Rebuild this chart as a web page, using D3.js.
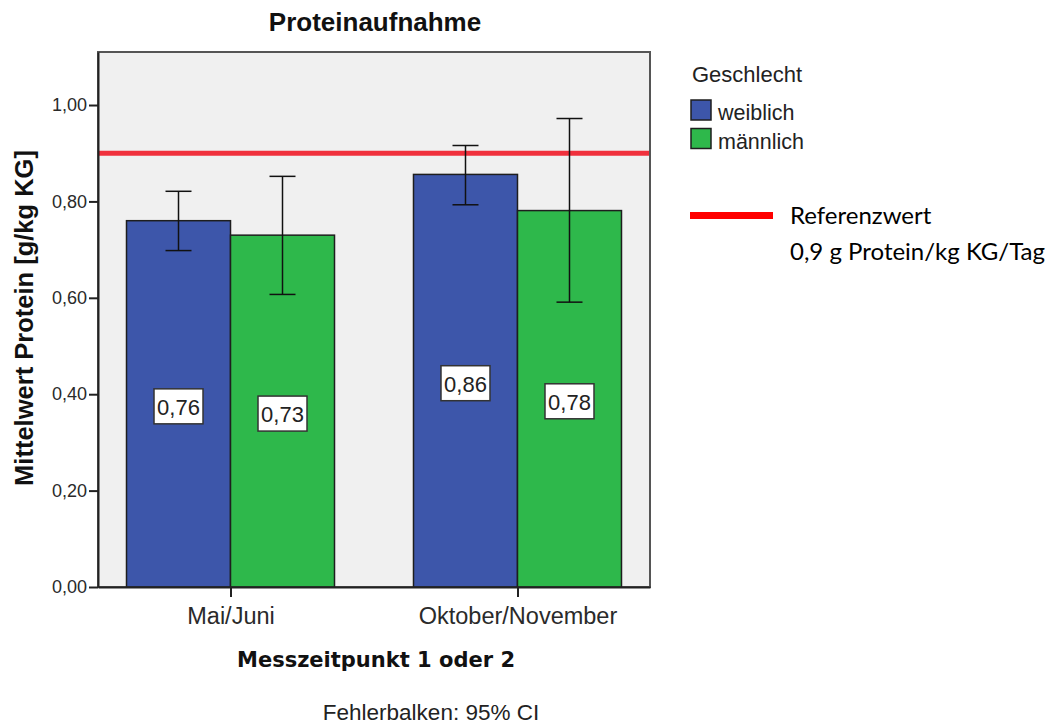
<!DOCTYPE html>
<html>
<head>
<meta charset="utf-8">
<script src="https://cdn.jsdelivr.net/npm/d3@7"></script>
<style>
  html, body { margin: 0; padding: 0; background: #ffffff; }
  svg { display: block; }
  .axis text { font-family: "Liberation Sans", Arial, sans-serif; fill: #2a2a2a; }
</style>
</head>
<body>
<svg id="chart" width="1050" height="725"></svg>
<script>
// Measurement periods (x categories) and sex groups (series)
const periods = ["Mai/Juni", "Oktober/November"];
const groups = ["weiblich", "männlich"];

// Mean protein intake [g/kg KG] per period, one array per group
const meanWeiblich = [0.76, 0.856];
const meanMaennlich = [0.73, 0.781];

// 95% confidence interval bounds per period
const ciLowWeiblich = [0.698, 0.793];
const ciHighWeiblich = [0.821, 0.916];
const ciLowMaennlich = [0.607, 0.591];
const ciHighMaennlich = [0.852, 0.972];

// Y axis ticks and reference value
const yTicks = [0, 0.2, 0.4, 0.6, 0.8, 1.0];
const referenceValue = 0.9;

const groupColors = ["#3d56aa", "#2eb84b"];

const rows = [];
periods.forEach((p, i) => {
  rows.push({ period: p, group: groups[0], mean: meanWeiblich[i], lo: ciLowWeiblich[i], hi: ciHighWeiblich[i] });
  rows.push({ period: p, group: groups[1], mean: meanMaennlich[i], lo: ciLowMaennlich[i], hi: ciHighMaennlich[i] });
});

const svg = d3.select("#chart");
const plot = { left: 98, right: 650, top: 52, bottom: 587 };

const x0 = d3.scalePoint().domain(periods).range([plot.left, plot.right]).padding(0.4617);
const x1 = d3.scaleBand().domain(groups).range([-104, 104]).padding(0);
const y = d3.scaleLinear().domain([0, 1.11]).range([plot.bottom, plot.top]);
const color = d3.scaleOrdinal().domain(groups).range(groupColors);

const fmt = v => d3.format(".2f")(v).replace(".", ",");

// plot background
svg.append("rect")
  .attr("x", plot.left).attr("y", plot.top)
  .attr("width", plot.right - plot.left).attr("height", plot.bottom - plot.top)
  .attr("fill", "#f0f0f0")
  .attr("stroke", "#555").attr("stroke-width", 2);

// bars
svg.append("g").selectAll("rect").data(rows).join("rect")
  .attr("x", d => x0(d.period) + x1(d.group))
  .attr("y", d => y(d.mean))
  .attr("width", x1.bandwidth())
  .attr("height", d => y(0) - y(d.mean))
  .attr("fill", d => color(d.group))
  .attr("stroke", "#1e1e1e").attr("stroke-width", 1.5);

// reference line
svg.append("line")
  .attr("x1", plot.left + 1).attr("x2", plot.right - 1)
  .attr("y1", y(referenceValue)).attr("y2", y(referenceValue))
  .attr("stroke", "#f0303c").attr("stroke-width", 5);

// error bars (95% CI)
const eb = svg.append("g").attr("stroke", "#111").attr("stroke-width", 1.5);
rows.forEach(d => {
  const cx = x0(d.period) + x1(d.group) + x1.bandwidth() / 2;
  eb.append("line").attr("x1", cx).attr("x2", cx).attr("y1", y(d.lo)).attr("y2", y(d.hi));
  eb.append("line").attr("x1", cx - 13).attr("x2", cx + 13).attr("y1", y(d.lo)).attr("y2", y(d.lo));
  eb.append("line").attr("x1", cx - 13).attr("x2", cx + 13).attr("y1", y(d.hi)).attr("y2", y(d.hi));
});

// value labels in boxes
const labels = svg.append("g");
rows.forEach(d => {
  const cx = x0(d.period) + x1(d.group) + x1.bandwidth() / 2;
  const cy = y(d.mean / 2) + 3;
  labels.append("rect")
    .attr("x", cx - 24.5).attr("y", cy - 18).attr("width", 49).attr("height", 35)
    .attr("fill", "#ffffff").attr("stroke", "#333").attr("stroke-width", 1.5);
  labels.append("text")
    .attr("x", cx).attr("y", cy + 8)
    .attr("text-anchor", "middle")
    .attr("font-family", "Liberation Sans, Arial, sans-serif")
    .attr("font-size", 22).attr("fill", "#222")
    .text(fmt(d.mean));
});

// axes
const yAxis = svg.append("g").attr("class", "axis")
  .attr("transform", `translate(${plot.left},0)`)
  .call(d3.axisLeft(y).tickValues(yTicks).tickFormat(fmt).tickSize(9).tickSizeOuter(0).tickPadding(2));
yAxis.select(".domain").attr("stroke", "#222").attr("stroke-width", 2);
yAxis.selectAll(".tick line").attr("stroke", "#222").attr("stroke-width", 2);
yAxis.selectAll("text").attr("font-size", 18);

const xAxis = svg.append("g").attr("class", "axis")
  .attr("transform", `translate(0,${plot.bottom})`)
  .call(d3.axisBottom(x0).tickSize(10).tickSizeOuter(0).tickPadding(10));
xAxis.select(".domain").attr("stroke", "#222").attr("stroke-width", 2);
xAxis.selectAll(".tick line").attr("stroke", "#222").attr("stroke-width", 2);
xAxis.selectAll("text").attr("font-size", 23.5);

// titles
svg.append("text")
  .attr("x", 375).attr("y", 31)
  .attr("text-anchor", "middle")
  .attr("font-family", "Liberation Sans, Arial, sans-serif")
  .attr("font-weight", "bold").attr("font-size", 26).attr("fill", "#111")
  .text("Proteinaufnahme");

svg.append("text")
  .attr("transform", "translate(33,318) rotate(-90)")
  .attr("text-anchor", "middle")
  .attr("font-family", "Liberation Sans, Arial, sans-serif")
  .attr("font-weight", "bold").attr("font-size", 25.5).attr("fill", "#111")
  .text("Mittelwert Protein [g/kg KG]");

svg.append("text")
  .attr("x", 376).attr("y", 667)
  .attr("text-anchor", "middle")
  .attr("font-family", "DejaVu Sans, sans-serif")
  .attr("font-weight", "bold").attr("font-size", 21).attr("fill", "#111")
  .text("Messzeitpunkt 1 oder 2");

svg.append("text")
  .attr("x", 431).attr("y", 720)
  .attr("text-anchor", "middle")
  .attr("font-family", "Liberation Sans, Arial, sans-serif")
  .attr("font-size", 22.5).attr("fill", "#222")
  .text("Fehlerbalken: 95% CI");

// legend for groups
const legend = svg.append("g");
legend.append("text")
  .attr("x", 692).attr("y", 82)
  .attr("font-family", "Liberation Sans, Arial, sans-serif")
  .attr("font-size", 22).attr("fill", "#222")
  .text("Geschlecht");
groups.forEach((g, i) => {
  const top = 100 + i * 28.5;
  legend.append("rect")
    .attr("x", 691).attr("y", top).attr("width", 20).attr("height", 20)
    .attr("fill", color(g)).attr("stroke", "#1e1e1e").attr("stroke-width", 1.5);
  legend.append("text")
    .attr("x", 718).attr("y", top + 20)
    .attr("font-family", "Liberation Sans, Arial, sans-serif")
    .attr("font-size", 21.5).attr("fill", "#222")
    .text(g);
});

// legend for reference line
legend.append("line")
  .attr("x1", 690).attr("x2", 773).attr("y1", 215.5).attr("y2", 215.5)
  .attr("stroke", "#ff0000").attr("stroke-width", 7);
legend.append("text")
  .attr("x", 790).attr("y", 224)
  .attr("font-family", "Lato, Open Sans, sans-serif")
  .attr("font-size", 24).attr("fill", "#000")
  .text("Referenzwert");
legend.append("text")
  .attr("x", 790).attr("y", 260)
  .attr("font-family", "Lato, Open Sans, sans-serif")
  .attr("font-size", 24).attr("fill", "#000")
  .text("0,9 g Protein/kg KG/Tag");
</script>
</body>
</html>
